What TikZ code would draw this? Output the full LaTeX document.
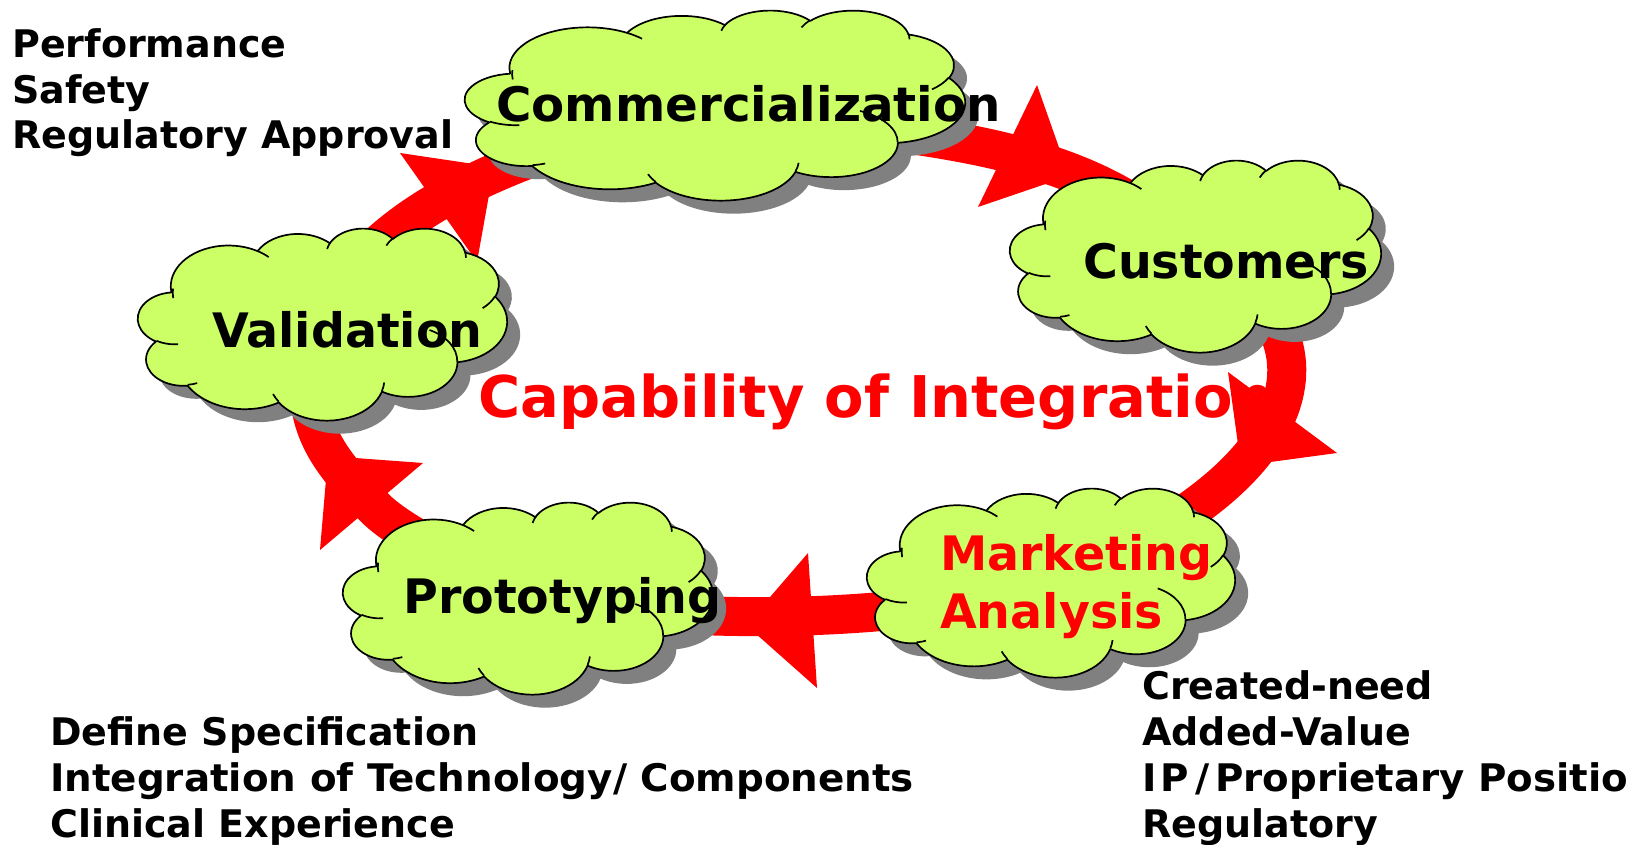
\documentclass[tikz,border=0pt]{standalone}
\usepackage{fontspec}
\setmainfont{DejaVu Sans}
\definecolor{arrowred}{HTML}{FF0000}
\definecolor{cloudgreen}{HTML}{CCFF66}
\definecolor{shadowgray}{HTML}{808080}
\tikzset{
  cloudpath/.style={insert path={(39.00,143.70)
    arc[start angle=172.254, end angle=300.37, x radius=67.53, y radius=91.90]
    arc[start angle=-152.05, end angle=-45.46, x radius=53.33, y radius=72.67]
    arc[start angle=-153.50, end angle=-37.32, x radius=43.65, y radius=59.45]
    arc[start angle=-139.71, end angle=-10.21, x radius=48.57, y radius=65.95]
    arc[start angle=-74.77, end angle=23.21, x radius=53.33, y radius=72.73]
    arc[start angle=-37.51, end angle=81.86, x radius=67.75, y radius=92.20]
    arc[start angle=0.46, end angle=121.98, x radius=57.85, y radius=78.67]
    arc[start angle=16.84, end angle=146.21, x radius=67.52, y radius=92.15]
    arc[start angle=58.99, end angle=150.21, x radius=77.20, y radius=105.43]
    arc[start angle=83.31, end angle=223.11, x radius=43.60, y radius=59.18]
    arc[start angle=120.36, end angle=264.11, x radius=43.45, y radius=59.45]
    -- cycle}},
  creasepath/.style={insert path={
    (46.93,261.77) arc[start angle=85.55, end angle=120.36, x radius=43.45, y radius=59.45]
    (69.28,348.99) arc[start angle=68.24, end angle=83.31, x radius=43.60, y radius=59.18]
    (164.78,390.90) arc[start angle=146.21, end angle=158.47, x radius=67.52, y radius=92.15]
    (288.27,347.51) arc[start angle=4.74, end angle=16.84, x radius=67.52, y radius=92.15]
    (341.29,229.54) arc[start angle=-64.03, end angle=0.46, x radius=57.85, y radius=78.67]
    (417.98,153.54) arc[start angle=23.21, end angle=49.65, x radius=53.33, y radius=72.73]
    (383.24,54.26) arc[start angle=-10.21, end angle=0.815, x radius=48.57, y radius=65.95]
    (290.78,39.52) arc[start angle=-156.30, end angle=-139.71, x radius=48.57, y radius=65.95]
    (221.41,47.20) arc[start angle=-167.73, end angle=-153.50, x radius=43.65, y radius=59.45]
    (140.00,51.92) arc[start angle=-59.63, end angle=-45.72, x radius=67.53, y radius=91.90]
    (41.27,157.89) arc[start angle=172.254, end angle=185.58, x radius=67.53, y radius=91.90]}},
  cloudbox/.style={rectangle, draw=none, inner sep=0pt, outer sep=0pt},
  band/.style={draw=arrowred, line width=39pt},
  head/.style={fill=arrowred},
  cloudlabel/.style={anchor=base west, inner sep=0pt, font=\bfseries\fontsize{47.5}{57}\selectfont},
  sidetext/.style={anchor=base west, inner sep=0pt, font=\bfseries\fontsize{38}{46}\selectfont},
  titletext/.style={anchor=base west, inner sep=0pt, text=arrowred, font=\bfseries\fontsize{57.5}{68}\selectfont},
}
\newcommand\drawcloud[3]{%
  \begin{scope}[shift={(#1.north west)}, x=#2pt, y=-#3pt]
    \fill[shadowgray, xshift=13pt, yshift=-13pt, cloudpath];
    \draw[fill=cloudgreen, line width=1.7pt, line join=round, cloudpath];
    \draw[line width=1.7pt, creasepath];
  \end{scope}}
\begin{document}
\begin{tikzpicture}[x=1pt, y=-1pt]
\useasboundingbox (0,0) rectangle (1628,845);
\fill[white] (0,0) rectangle (1628,845);

% cloud nodes (geometry only)
\node[cloudbox, minimum width=500pt, minimum height=190pt] (comm) at (715,105) {};
\node[cloudbox, minimum width=371pt, minimum height=192pt] (cust) at (1195.5,256) {};
\node[cloudbox, minimum width=369pt, minimum height=192pt] (val) at (322.5,324) {};
\node[cloudbox, minimum width=370pt, minimum height=192pt] (proto) at (528,598) {};
\node[cloudbox, minimum width=368pt, minimum height=189pt] (mark) at (1051,582.5) {};
\coordinate (h5mid) at (373,506);

% ring connectors
\draw[band] (val.center) .. controls (360,230) and (470,160) .. (comm.center);
\draw[band] (comm.center) .. controls (870,140) and (1080,125) .. (cust.center);
\draw[band] (cust.center) .. controls (1335,320) and (1335,470) .. (mark.center);
\draw[band] (mark.center) .. controls (900,625) and (680,625) .. (proto.center);
\draw[band] (proto.center) .. controls (470,565) and (400,535) .. (h5mid)
            .. controls (335,465) and (285,420) .. (val.center);

% arrow heads
\fill[head] (400,153) -- (494,167) -- (477,262) -- cycle;
\fill[head] (1037,85) -- (1069,176) -- (978,207) -- cycle;
\fill[head] (1228,372) -- (1241,466) -- (1337,453) -- cycle;
\fill[head] (808,553) -- (746,625) -- (817,688) -- cycle;
\fill[head] (423,463) -- (328,456) -- (320,550) -- cycle;

% clouds
\drawcloud{comm}{1.15741}{0.43981}
\drawcloud{cust}{0.85880}{0.44444}
\drawcloud{val}{0.85417}{0.44444}
\drawcloud{proto}{0.85648}{0.44444}
\drawcloud{mark}{0.85185}{0.43750}

% cloud labels
\node[cloudlabel] (commlabel) at (496,122) {\addfontfeature{FakeStretch=1.017}Commercialization};
\node[cloudlabel] (custlabel) at (1083,278) {Customers};
\node[cloudlabel] (vallabel) at (212,347) {Validation};
\node[cloudlabel] (protolabel) at (403,613) {Prototyping};
\node[cloudlabel, text=arrowred] (marklabela) at (940,570) {Marketing};
\node[cloudlabel, text=arrowred] (marklabelb) at (940,628) {Analysis};

\node[titletext] (title) at (478,417) {Capability of Integration};

% side texts
\node[sidetext] (perfa) at (12,58) {Performance};
\node[sidetext] (perfb) at (12,104) {Safety};
\node[sidetext] (perfc) at (12,149) {Regulatory Approval};

\node[sidetext] (defa) at (50,745) {Define Specification};
\node[sidetext] (defb) at (50,791) {\addfontfeature{FakeStretch=1.022}Integration of Technology/ Components};
\node[sidetext] (defc) at (50,837) {Clinical Experience};

\node[sidetext] (crea) at (1142,699) {Created-need};
\node[sidetext] (creb) at (1142,745) {Added-Value};
\node[sidetext] (crec) at (1142,791) {\addfontfeature{FakeStretch=1.02}I\kern4pt P\kern6pt/\kern6pt Proprietary Positio};
\node[sidetext] (cred) at (1142,837) {Regulatory};
\end{tikzpicture}
\end{document}
